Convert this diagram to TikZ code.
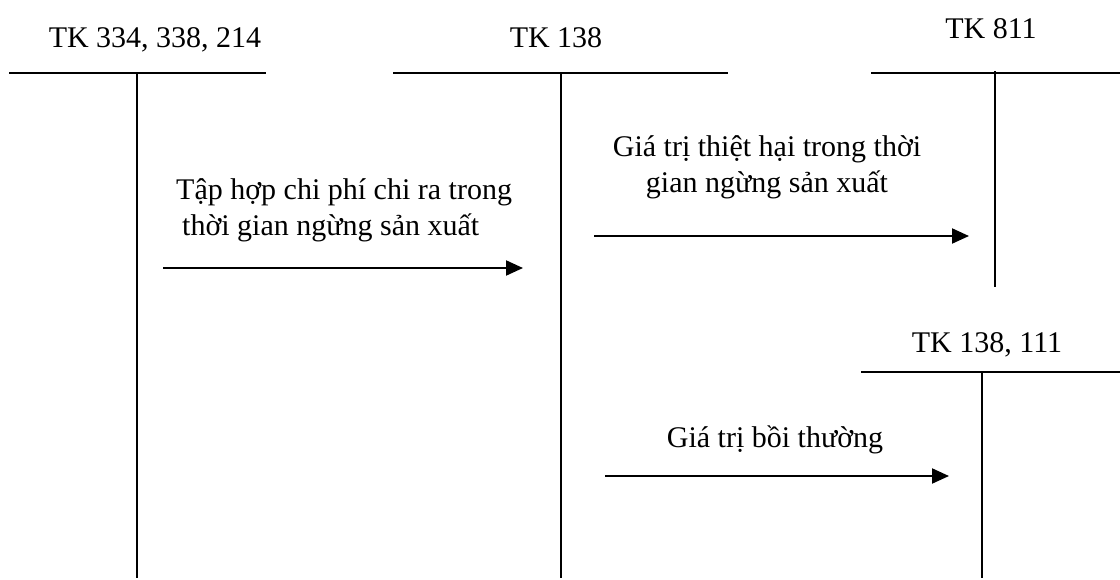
\documentclass[tikz,border=0pt]{standalone}
\usepackage{fontspec}
\setmainfont{Liberation Serif}
\usetikzlibrary{arrows.meta}
\tikzset{
  acct/.style={line width=2.1pt},
  flow/.style={line width=2.1pt,-{Triangle[length=17pt,width=15pt]}},
  lbl/.style={inner sep=0pt,font=\fontsize{30}{36}\selectfont},
}
\begin{document}
\begin{tikzpicture}[x=1pt,y=-1pt]
\useasboundingbox (0,0) rectangle (1120,579);

% T-account for TK 334, 338, 214
\node[lbl,anchor=base] (n1) at (155,47) {TK 334, 338, 214};
\coordinate (a1l) at (9,73);  \coordinate (a1r) at (266,73);
\coordinate (a1t) at (137,73); \coordinate (a1b) at (137,578);
\draw[acct] (a1l) -- (a1r);
\draw[acct] (a1t) -- (a1b);

% T-account for TK 138
\node[lbl,anchor=base] (n2) at (556,47) {TK 138};
\coordinate (a2l) at (393,73); \coordinate (a2r) at (728,73);
\coordinate (a2t) at (561,73); \coordinate (a2b) at (561,578);
\draw[acct] (a2l) -- (a2r);
\draw[acct] (a2t) -- (a2b);

% T-account for TK 811
\node[lbl,anchor=base] (n3) at (991,38) {TK 811};
\coordinate (a3l) at (871,73); \coordinate (a3r) at (1120,73);
\coordinate (a3t) at (995,71); \coordinate (a3b) at (995,287);
\draw[acct] (a3l) -- (a3r);
\draw[acct] (a3t) -- (a3b);

% T-account for TK 138, 111
\node[lbl,anchor=base] (n4) at (987,352) {TK 138, 111};
\coordinate (a4l) at (861,372); \coordinate (a4r) at (1120,372);
\coordinate (a4t) at (982,372); \coordinate (a4b) at (982,578);
\draw[acct] (a4l) -- (a4r);
\draw[acct] (a4t) -- (a4b);

% Flows (multi-line labels are placed by the baseline of their last line)
\node[lbl,anchor=base west,align=left] (t1) at (176,235)
  {Tập hợp chi phí chi ra trong\\\hspace*{6pt}thời gian ngừng sản xuất};
\coordinate (f1s) at (163,268); \coordinate (f1e) at (523,268);
\draw[flow] (f1s) -- (f1e);

\node[lbl,anchor=base,align=center] (t2) at (767,192)
  {Giá trị thiệt hại trong thời\\gian ngừng sản xuất};
\coordinate (f2s) at (594,236); \coordinate (f2e) at (969,236);
\draw[flow] (f2s) -- (f2e);

\node[lbl,anchor=base] (t3) at (775,447) {Giá trị bồi thường};
\coordinate (f3s) at (605,476); \coordinate (f3e) at (949,476);
\draw[flow] (f3s) -- (f3e);
\end{tikzpicture}
\end{document}
